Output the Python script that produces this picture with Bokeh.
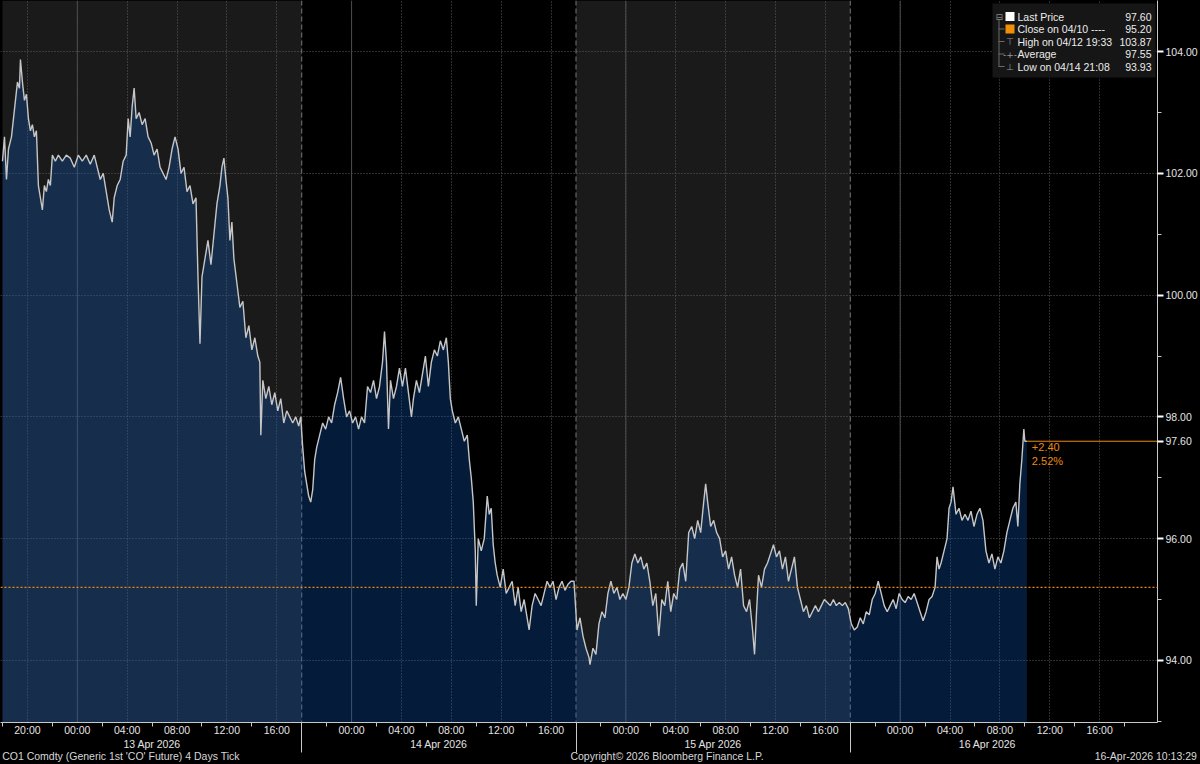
from bokeh.plotting import figure
from bokeh.models import Span, BoxAnnotation, Label, FixedTicker, PrintfTickFormatter, Range1d, LinearAxis
from bokeh.embed import file_html
from bokeh.resources import INLINE

# ---------------- data ----------------
# x axis = trading hours since the first session open (12 Apr 18:00); non-trading gaps removed
session_start = [0, 24, 46, 68]
session_end = [24, 46, 68, 90]
session_day = ["13 Apr 2026", "14 Apr 2026", "15 Apr 2026", "16 Apr 2026"]
shaded_session = [0, 2]

time_tick_pos = [2, 6, 10, 14, 18, 22, 28, 32, 36, 40, 44, 50, 54, 58, 62, 66, 72, 76, 80, 84, 88]
time_tick_lab = ["20:00", "00:00", "04:00", "08:00", "12:00", "16:00",
                 "00:00", "04:00", "08:00", "12:00", "16:00",
                 "00:00", "04:00", "08:00", "12:00", "16:00",
                 "00:00", "04:00", "08:00", "12:00", "16:00"]
minor_tick_pos = [0, 4, 8, 12, 16, 20, 26, 30, 34, 38, 42, 48, 52, 56, 60, 64, 70, 74, 78, 82, 86, 90]
midnight_pos = [6, 28, 50, 72]

price_ticks = [94, 96, 98, 100, 102, 104]
price_minor = [93, 95, 97, 99, 101, 103]

t = [0.00, 0.16, 0.32, 0.48, 0.72, 0.88, 1.04, 1.20, 1.36, 1.44, 1.60, 1.76, 1.92, 2.08, 2.24, 2.40, 2.56, 2.72,
     2.88, 3.04, 3.20, 3.36, 3.52, 3.68, 3.84, 4.00, 4.24, 4.48, 4.80, 5.12, 5.44, 5.76, 6.08, 6.40, 6.72, 7.04,
     7.36, 7.60, 7.84, 8.08, 8.32, 8.56, 8.80, 8.96, 9.20, 9.44, 9.68, 9.92, 10.08, 10.24, 10.40, 10.56, 10.72,
     10.96, 11.20, 11.44, 11.68, 11.92, 12.16, 12.40, 12.64, 12.88, 13.12, 13.36, 13.60, 13.84, 14.08, 14.32,
     14.56, 14.80, 15.04, 15.28, 15.52, 15.68, 15.84, 16.00, 16.24, 16.48, 16.72, 16.96, 17.20, 17.44, 17.60,
     17.76, 17.92, 18.08, 18.24, 18.40, 18.56, 18.80, 19.04, 19.28, 19.52, 19.76, 20.00, 20.24, 20.48, 20.64,
     20.72, 20.88, 21.12, 21.36, 21.60, 21.84, 22.08, 22.32, 22.56, 22.80, 23.04, 23.28, 23.52, 23.76, 23.92,
     # 14 Apr session
     24.08, 24.24, 24.40, 24.56, 24.72, 24.88, 25.04, 25.20, 25.44, 25.68, 25.92, 26.16, 26.40, 26.64, 26.88,
     27.12, 27.36, 27.60, 27.84, 28.08, 28.32, 28.56, 28.80, 29.04, 29.28, 29.52, 29.76, 30.00, 30.24, 30.48,
     30.64, 30.80, 30.96, 31.12, 31.36, 31.60, 31.84, 32.08, 32.32, 32.56, 32.80, 32.96, 33.20, 33.44, 33.68,
     33.92, 34.16, 34.40, 34.64, 34.88, 35.12, 35.36, 35.60, 35.76, 35.92, 36.08, 36.32, 36.56, 36.80, 37.04,
     37.28, 37.44, 37.60, 37.76, 37.92, 38.00, 38.16, 38.40, 38.64, 38.88, 39.04, 39.20, 39.36, 39.52, 39.68,
     39.92, 40.16, 40.40, 40.64, 40.88, 41.12, 41.36, 41.60, 41.84, 42.08, 42.24, 42.48, 42.72, 42.96, 43.20,
     43.44, 43.68, 43.92, 44.16, 44.40, 44.64, 44.88, 45.12, 45.36, 45.60, 45.84,
     # 15 Apr session
     46.08, 46.32, 46.56, 46.80, 47.04, 47.12, 47.36, 47.60, 47.84, 48.08, 48.32, 48.56, 48.80, 49.04, 49.28,
     49.52, 49.76, 50.00, 50.24, 50.48, 50.72, 50.96, 51.20, 51.44, 51.68, 51.92, 52.16, 52.40, 52.64, 52.88,
     53.12, 53.36, 53.60, 53.84, 54.08, 54.32, 54.56, 54.80, 55.04, 55.28, 55.52, 55.76, 56.00, 56.24, 56.40,
     56.56, 56.80, 57.04, 57.28, 57.52, 57.76, 58.00, 58.24, 58.48, 58.72, 58.96, 59.20, 59.44, 59.68, 59.92,
     60.16, 60.32, 60.48, 60.64, 60.88, 61.12, 61.36, 61.60, 61.84, 62.08, 62.32, 62.56, 62.80, 63.04, 63.28,
     63.52, 63.76, 64.00, 64.24, 64.48, 64.72, 64.96, 65.20, 65.44, 65.68, 65.92, 66.16, 66.40, 66.64, 66.88,
     67.12, 67.36, 67.60, 67.84,
     # 16 Apr session
     68.08, 68.32, 68.56, 68.80, 69.04, 69.28, 69.52, 69.76, 70.00, 70.24, 70.48, 70.72, 70.96, 71.20, 71.44,
     71.68, 71.92, 72.16, 72.40, 72.64, 72.88, 73.12, 73.36, 73.60, 73.84, 74.08, 74.32, 74.56, 74.80, 74.96,
     75.12, 75.28, 75.52, 75.76, 75.92, 76.08, 76.24, 76.48, 76.72, 76.96, 77.20, 77.44, 77.68, 77.92, 78.16,
     78.40, 78.64, 78.88, 79.12, 79.36, 79.60, 79.84, 80.08, 80.32, 80.56, 80.80, 81.04, 81.28, 81.44, 81.60,
     81.76, 81.92, 82.00, 82.16]

price = [102.2, 102.6, 101.9, 102.4, 102.6, 102.9, 103.2, 103.5, 103.4, 103.87, 103.5, 103.2, 103.3, 102.9, 102.7,
         102.8, 102.6, 102.7, 101.8, 101.6, 101.4, 101.8, 101.7, 101.9, 101.8, 102.3, 102.2, 102.3, 102.2, 102.3,
         102.25, 102.1, 102.3, 102.2, 102.3, 102.15, 102.3, 102.1, 101.9, 102.0, 101.7, 101.4, 101.2, 101.6, 101.8,
         101.9, 102.2, 102.3, 102.9, 102.6, 103.1, 103.4, 102.9, 103.0, 102.8, 102.9, 102.6, 102.5, 102.3, 102.4,
         102.1, 102.0, 101.9, 102.1, 102.4, 102.6, 102.4, 102.0, 102.1, 101.7, 101.8, 101.5, 101.6, 100.3, 99.2,
         100.3, 100.6, 100.9, 100.5, 101.0, 101.5, 101.8, 102.1, 102.25, 101.9, 101.6, 100.9, 101.2, 100.6, 100.2,
         99.8, 99.9, 99.3, 99.5, 99.1, 99.3, 99.0, 98.9, 97.7, 98.6, 98.3, 98.5, 98.2, 98.4, 98.1, 98.3, 97.9, 98.1,
         98.0, 97.9, 98.0, 97.85, 98.0,
         # 14 Apr session
         97.5, 97.1, 96.9, 96.7, 96.6, 96.8, 97.3, 97.5, 97.7, 97.9, 97.8, 98.0, 97.9, 98.2, 98.4, 98.65, 98.3,
         98.0, 98.1, 97.9, 98.0, 97.8, 98.0, 97.9, 98.5, 98.4, 98.6, 98.3, 98.5, 98.9, 99.4, 98.9, 97.8, 98.6,
         98.3, 98.5, 98.8, 98.5, 98.8, 98.4, 98.0, 98.3, 98.6, 98.4, 98.7, 99.0, 98.5, 98.9, 99.1, 99.0, 99.25,
         99.1, 99.3, 98.9, 98.3, 98.1, 97.9, 98.0, 97.8, 97.6, 97.7, 97.3, 97.0, 96.6, 95.8, 94.9, 96.0, 95.8,
         96.0, 96.7, 96.4, 96.5, 95.9, 95.6, 95.4, 95.2, 95.5, 95.1, 95.2, 95.3, 94.9, 95.2, 94.8, 95.0, 94.7,
         94.5, 94.9, 95.1, 95.0, 94.9, 95.1, 95.3, 95.2, 95.3, 95.0, 95.2, 95.3, 95.15, 95.25, 95.3, 95.3,
         # 15 Apr session
         94.5, 94.7, 94.4, 94.2, 94.05, 93.93, 94.2, 94.1, 94.6, 94.8, 94.7, 95.1, 95.3, 95.1, 95.2, 95.0, 95.1,
         95.0, 95.2, 95.6, 95.75, 95.6, 95.7, 95.5, 95.6, 95.3, 94.9, 95.1, 94.4, 95.0, 94.9, 95.3, 94.8, 95.1,
         95.0, 95.5, 95.6, 95.3, 96.1, 96.2, 96.0, 96.3, 96.1, 96.6, 96.9, 96.6, 96.2, 96.3, 96.1, 96.0, 95.7,
         95.8, 95.5, 95.7, 95.4, 95.2, 95.5, 94.9, 94.8, 95.0, 94.5, 94.1, 94.8, 95.4, 95.2, 95.5, 95.6, 95.75,
         95.9, 95.7, 95.8, 95.5, 95.7, 95.3, 95.5, 95.7, 95.2, 95.0, 94.8, 94.9, 94.7, 94.8, 94.9, 94.8, 94.9,
         95.0, 94.95, 94.9, 95.0, 94.9, 94.95, 94.9, 94.95, 94.85,
         # 16 Apr session
         94.6, 94.5, 94.55, 94.7, 94.6, 94.8, 94.75, 95.0, 95.1, 95.3, 95.1, 94.9, 94.8, 94.9, 95.0, 94.85, 95.1,
         95.0, 94.95, 95.05, 95.0, 95.1, 94.95, 94.8, 94.65, 94.8, 95.0, 95.05, 95.2, 95.7, 95.5, 95.6, 95.8,
         96.0, 96.5, 96.6, 96.85, 96.4, 96.5, 96.3, 96.4, 96.3, 96.45, 96.2, 96.4, 96.5, 96.3, 95.8, 95.6, 95.75,
         95.5, 95.7, 95.6, 95.8, 96.1, 96.3, 96.5, 96.6, 96.2, 96.9, 97.3, 97.8, 97.6, 97.6]

last_price = 97.60
prev_close = 95.20
high_val = 103.87
avg_val = 97.55
low_val = 93.93

legend_rows = [("Last Price", "%.2f" % last_price),
               ("Close on 04/10 ----", "%.2f" % prev_close),
               ("High on 04/12 19:33", "%.2f" % high_val),
               ("Average", "%.2f" % avg_val),
               ("Low on 04/14 21:08", "%.2f" % low_val)]

footer_text = ["CO1 Comdty (Generic 1st 'CO' Future) 4 Days Tick",
               "Copyright\u00a9 2026 Bloomberg Finance L.P.",
               "16-Apr-2026 10:13:29"]
footer_pos = [9.5, 53.3, 91.7]   # where each footer text is centred along the time axis

# ---------------- style ----------------
FONT = "Liberation Sans"
TXT = "#e4e4e4"
ORANGE = "#ee8a0a"
FRAME_H = 722

x_lo, x_hi = -0.16, 92.64
y_lo, y_hi = 92.98, 104.84

p = figure(width=1200, height=764, output_backend="svg", toolbar_location=None,
           x_range=Range1d(x_lo, x_hi), y_range=Range1d(y_lo, y_hi),
           y_axis_location="right", min_border_left=0, min_border_top=0,
           min_border_right=40, min_border_bottom=42)
p.background_fill_color = "black"
p.border_fill_color = "black"
p.outline_line_color = None

# session shading
for i in shaded_session:
    p.add_layout(BoxAnnotation(left=session_start[i], right=session_end[i], fill_color="#1a1a1a",
                               fill_alpha=1.0, line_color=None, level="image"))

# grids
p.xgrid.ticker = FixedTicker(ticks=time_tick_pos)
p.ygrid.ticker = FixedTicker(ticks=price_ticks)
for g in (p.xgrid, p.ygrid):
    g.grid_line_color = "#5c5c5c"
    g.grid_line_dash = "1 2"
    g.grid_line_width = 1

# midnight lines and session separators
for m in midnight_pos:
    p.add_layout(Span(location=m, dimension="height", line_color="#4d4d4d", line_width=1, level="underlay"))
for s in session_start[1:]:
    p.add_layout(Span(location=s, dimension="height", line_color="#777777", line_width=1,
                      line_dash="5 3", level="underlay"))

# area + price line
p.varea(x=t, y1=y_lo, y2=price, fill_color="#0d5dc1", fill_alpha=0.3)
p.line(t, price, line_color="#c6c6c6", line_width=1.4)

# previous close
p.add_layout(Span(location=prev_close, dimension="width", line_color=ORANGE, line_dash="2 2", line_width=1.3))

# last price line
p.segment(x0=[t[-1]], y0=[last_price], x1=[x_hi], y1=[last_price], line_color=ORANGE, line_width=1)
chg = last_price - prev_close
pct = chg / prev_close * 100
p.add_layout(Label(x=t[-1], y=last_price, x_offset=5, y_offset=-6, text="%+.2f" % chg,
                   text_color=ORANGE, text_font=FONT, text_font_size="11px", text_baseline="middle"))
p.add_layout(Label(x=t[-1], y=last_price, x_offset=5, y_offset=-20, text="%.2f%%" % pct,
                   text_color=ORANGE, text_font=FONT, text_font_size="11px", text_baseline="middle"))

# ---- bottom axes: times, days, footer ----
xa = p.xaxis[0]
xa.ticker = FixedTicker(ticks=time_tick_pos, minor_ticks=minor_tick_pos)
xa.major_label_overrides = {k: v for k, v in zip(time_tick_pos, time_tick_lab)}
xa.axis_line_color = "#c8c8c8"
xa.major_tick_out = 0
xa.major_tick_in = 0
xa.minor_tick_out = 4
xa.minor_tick_in = 0
xa.minor_tick_line_color = "#c8c8c8"
xa.major_label_text_color = TXT
xa.major_label_text_font = FONT
xa.major_label_text_font_size = "10.5px"
xa.major_label_standoff = -3

day_pos = [(a + b) / 2 for a, b in zip(session_start, session_end)]
xday = LinearAxis(ticker=FixedTicker(ticks=day_pos),
                  major_label_overrides={k: v for k, v in zip(day_pos, session_day)})
xfoot = LinearAxis(ticker=FixedTicker(ticks=footer_pos, minor_ticks=session_start[1:]),
                   major_label_overrides={k: v for k, v in zip(footer_pos, footer_text)})
for ax, col in ((xday, TXT), (xfoot, "#d8d8d8")):
    ax.axis_line_color = None
    ax.major_tick_line_color = None
    ax.major_tick_out = 0
    ax.major_tick_in = 0
    ax.major_label_text_color = col
    ax.major_label_text_font = FONT
    ax.major_label_text_font_size = "10.5px"
xday.major_label_standoff = -1
xfoot.major_label_standoff = -3
xday.minor_tick_line_color = None
xfoot.minor_tick_line_color = "#c8c8c8"
xfoot.minor_tick_in = 30
xfoot.minor_tick_out = 0
p.add_layout(xday, "below")
p.add_layout(xfoot, "below")

# ---- right price axis ----
ya = p.yaxis[0]
ya.ticker = FixedTicker(ticks=price_ticks + [last_price], minor_ticks=price_minor)
ya.formatter = PrintfTickFormatter(format="%.2f")
ya.axis_line_color = "#c8c8c8"
ya.major_tick_out = 6
ya.major_tick_in = 0
ya.major_tick_line_color = "white"
ya.major_tick_line_width = 2
ya.minor_tick_out = 4
ya.minor_tick_in = 0
ya.minor_tick_line_color = "#c8c8c8"
ya.major_label_text_color = TXT
ya.major_label_text_font = FONT
ya.major_label_text_font_size = "10.5px"
ya.major_label_standoff = 2

# ---- legend box ----
p.add_layout(BoxAnnotation(left=992, right=1155, top=FRAME_H - 3, bottom=FRAME_H - 77,
                           left_units="screen", right_units="screen", top_units="screen", bottom_units="screen",
                           fill_color="#161616", fill_alpha=1, line_color=None))
row_y = [16, 28.5, 41, 53.5, 66]
p.add_layout(BoxAnnotation(left=998, right=999, top=FRAME_H - 19, bottom=FRAME_H - 66,
                           left_units="screen", right_units="screen", top_units="screen", bottom_units="screen",
                           fill_color="#6a6a6a", fill_alpha=1, line_color=None))
for ry in row_y[1:]:
    p.add_layout(BoxAnnotation(left=998, right=1004, top=FRAME_H - ry + 0.5, bottom=FRAME_H - ry - 0.5,
                               left_units="screen", right_units="screen", top_units="screen",
                               bottom_units="screen", fill_color="#6a6a6a", fill_alpha=1, line_color=None))
p.add_layout(Label(x=995, y=FRAME_H - row_y[0], x_units="screen", y_units="screen", text="\u229f",
                   text_color="#8a8a8a", text_font="DejaVu Sans", text_font_size="9px",
                   text_baseline="middle"))
for ry, col in ((row_y[0], "white"), (row_y[1], "#f0900a")):
    p.add_layout(BoxAnnotation(left=1005, right=1014, top=FRAME_H - ry + 4.5, bottom=FRAME_H - ry - 4.5,
                               left_units="screen", right_units="screen", top_units="screen",
                               bottom_units="screen", fill_color=col, fill_alpha=1, line_color=None))
for ry, sym in ((row_y[2], "\u22a4"), (row_y[3], "-+-"), (row_y[4], "\u22a5")):
    p.add_layout(Label(x=1009.5, y=FRAME_H - ry, x_units="screen", y_units="screen", text=sym,
                       text_color="#9a9a9a", text_font="DejaVu Sans", text_font_size="9px",
                       text_baseline="middle", text_align="center"))
for ry, (name, val) in zip(row_y, legend_rows):
    p.add_layout(Label(x=1017, y=FRAME_H - ry, x_units="screen", y_units="screen", text=name,
                       text_color="#ececec", text_font=FONT, text_font_size="10.5px",
                       text_baseline="middle"))
    p.add_layout(Label(x=1151, y=FRAME_H - ry, x_units="screen", y_units="screen", text=val,
                       text_color="#ececec", text_font=FONT, text_font_size="10.5px",
                       text_baseline="middle", text_align="right"))

html = file_html(p, INLINE, title="CO1 Comdty")
html = html.replace("<head>", "<head><style>html,body{margin:0;padding:0;background:#000;overflow:hidden}</style>", 1)
open("out.html", "w").write(html)
